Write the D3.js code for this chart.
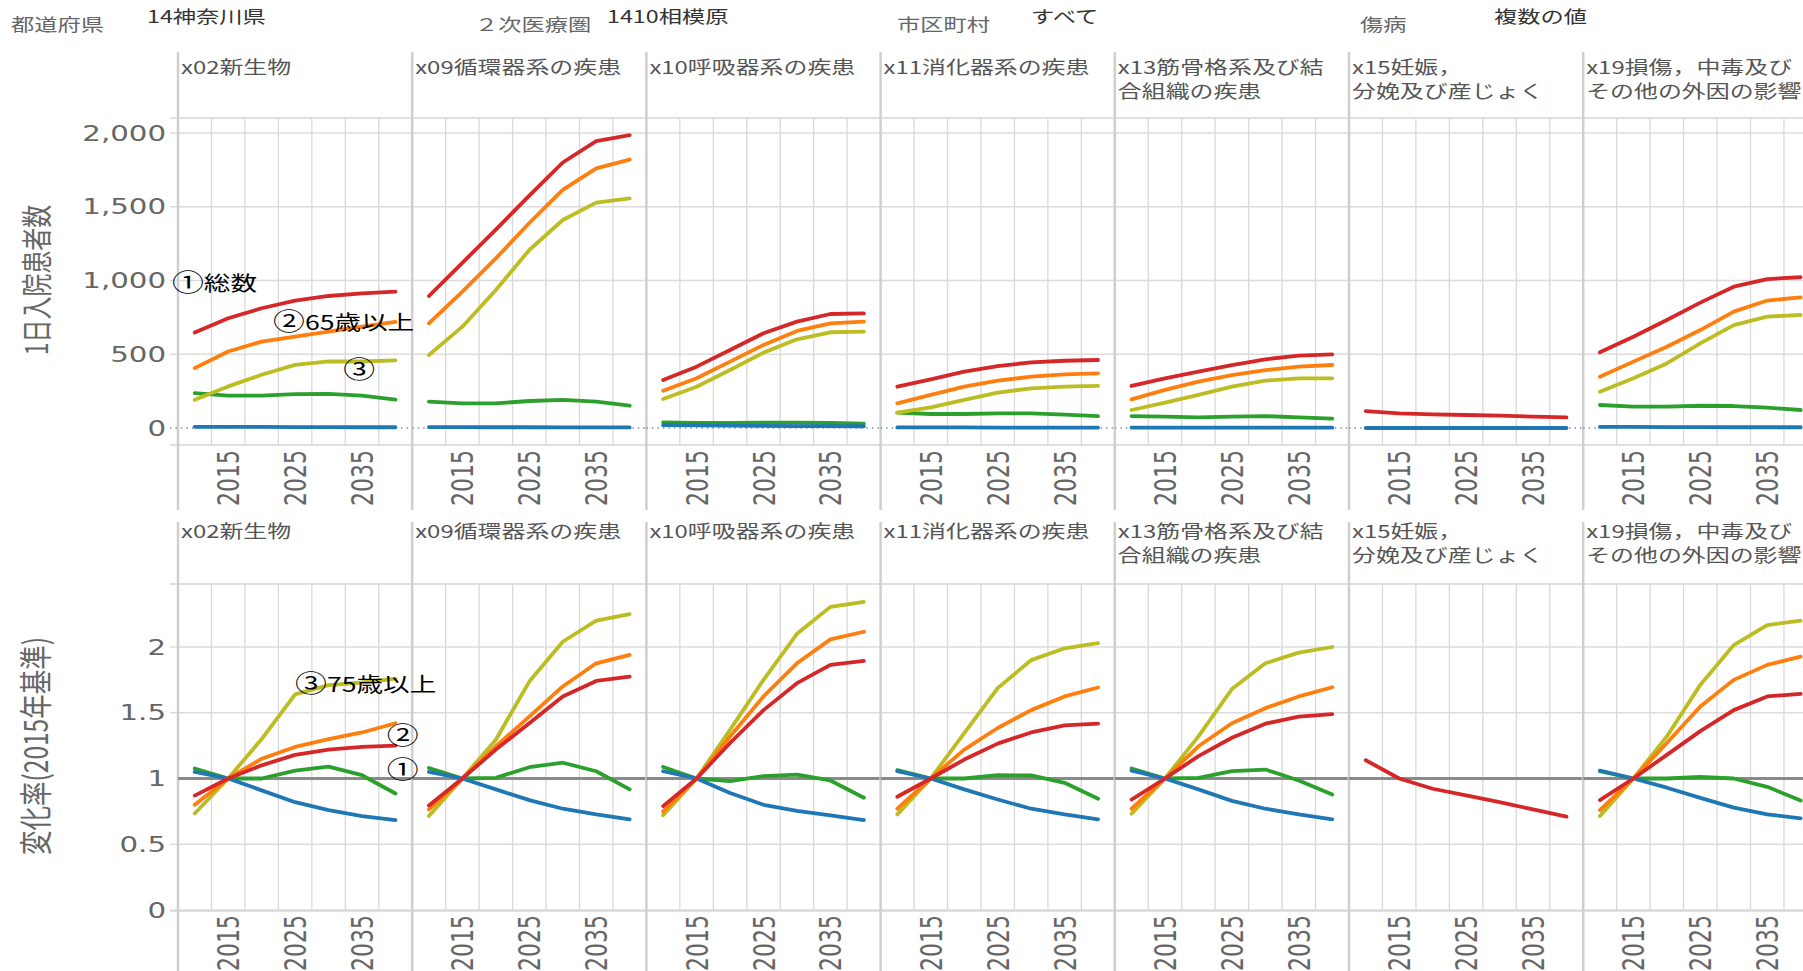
<!DOCTYPE html>
<html>
<head>
<meta charset="utf-8">
<script src="https://cdn.jsdelivr.net/npm/d3@7"></script>
<style>
  body { margin: 0; background: #fff; overflow: hidden; }
  svg { display: block; }
</style>
</head>
<body>
<svg id="chart"></svg>
<script>
// ---- data ----
var years = [2010, 2015, 2020, 2025, 2030, 2035, 2040];

var diseases = [
  ["x02新生物"],
  ["x09循環器系の疾患"],
  ["x10呼吸器系の疾患"],
  ["x11消化器系の疾患"],
  ["x13筋骨格系及び結", "合組織の疾患"],
  ["x15妊娠，", "分娩及び産じょく"],
  ["x19損傷，中毒及び", "その他の外因の影響"]
];

var filterLabels = ["都道府県", "２次医療圏", "市区町村", "傷病"];
var filterValues = ["14神奈川県", "1410相模原", "すべて", "複数の値"];

var countTicks = [0, 500, 1000, 1500, 2000];
var rateTicks = [0, 0.5, 1, 1.5, 2];
var yearTicks = [2015, 2025, 2035];

// 1日入院患者数 (one array per disease)
var countTotal = [
  [647, 744, 812, 864, 895, 913, 925],
  [895, 1120, 1345, 1575, 1800, 1945, 1985],
  [325, 416, 529, 642, 721, 773, 777],
  [280, 330, 382, 420, 445, 456, 461],
  [285, 337, 382, 427, 466, 490, 499],
  [115, 99, 93, 88, 84, 77, 72],
  [513, 619, 732, 850, 958, 1010, 1022]
];
var count65 = [
  [406, 519, 586, 620, 654, 688, 720],
  [710, 925, 1150, 1390, 1615, 1760, 1820],
  [253, 337, 450, 563, 658, 710, 721],
  [167, 224, 280, 321, 348, 364, 371],
  [194, 258, 314, 359, 393, 416, 427],
  null,
  [348, 450, 551, 664, 789, 864, 886]
];
var count75 = [
  [192, 282, 361, 428, 451, 451, 458],
  [495, 687, 936, 1207, 1410, 1528, 1557],
  [197, 280, 393, 511, 601, 649, 653],
  [104, 140, 190, 240, 269, 280, 285],
  [122, 172, 224, 280, 321, 337, 337],
  null,
  [246, 337, 438, 574, 698, 755, 766]
];
var count1564 = [
  [237, 219, 219, 230, 232, 219, 192],
  [179, 167, 167, 183, 190, 179, 151],
  [38, 35, 34, 36, 36, 34, 30],
  [104, 95, 95, 99, 99, 90, 81],
  [81, 77, 72, 77, 81, 72, 63],
  null,
  [156, 145, 145, 151, 149, 138, 122]
];
var count014 = [
  [8, 7, 7, 6, 6, 5, 5],
  [6, 6, 5, 5, 4, 4, 4],
  [19, 18, 16, 14, 13, 13, 12],
  [4, 4, 4, 3, 3, 3, 3],
  [3, 3, 3, 2, 2, 2, 2],
  [0, 0, 0, 0, 0, 0, 0],
  [7, 7, 6, 6, 5, 5, 5]
];

// 変化率(2015年基準)
var rateTotal = [
  [0.87, 1, 1.10, 1.18, 1.22, 1.24, 1.25],
  [0.795, 1, 1.22, 1.42, 1.624, 1.742, 1.775],
  [0.79, 1, 1.27, 1.52, 1.725, 1.864, 1.894],
  [0.861, 1, 1.144, 1.265, 1.35, 1.404, 1.417],
  [0.84, 1, 1.17, 1.31, 1.417, 1.47, 1.49],
  [1.139, 1, 0.922, 0.871, 0.82, 0.765, 0.71],
  [0.836, 1, 1.18, 1.36, 1.52, 1.624, 1.644]
];
var rate65 = [
  [0.80, 1, 1.15, 1.24, 1.30, 1.35, 1.42],
  [0.765, 1, 1.245, 1.47, 1.70, 1.876, 1.94],
  [0.75, 1, 1.32, 1.624, 1.876, 2.058, 2.116],
  [0.77, 1, 1.22, 1.384, 1.52, 1.624, 1.692],
  [0.77, 1, 1.245, 1.42, 1.535, 1.624, 1.694],
  null,
  [0.76, 1, 1.27, 1.548, 1.75, 1.864, 1.927]
];
var rate75 = [
  [0.734, 1, 1.30, 1.64, 1.71, 1.73, 1.76],
  [0.715, 1, 1.295, 1.737, 2.04, 2.20, 2.25],
  [0.72, 1, 1.37, 1.75, 2.10, 2.305, 2.343],
  [0.727, 1, 1.346, 1.687, 1.90, 1.99, 2.03],
  [0.732, 1, 1.32, 1.68, 1.876, 1.957, 2.0],
  null,
  [0.715, 1, 1.32, 1.712, 2.015, 2.167, 2.2]
];
var rate1564 = [
  [1.076, 1, 1.0, 1.06, 1.09, 1.025, 0.886],
  [1.08, 1, 1.005, 1.086, 1.12, 1.055, 0.917],
  [1.088, 1, 0.98, 1.018, 1.03, 0.985, 0.854],
  [1.063, 1, 1.0, 1.025, 1.023, 0.967, 0.846],
  [1.076, 1, 1.005, 1.056, 1.068, 0.985, 0.879],
  null,
  [1.055, 1, 1.0, 1.013, 1.0, 0.937, 0.833]
];
var rate014 = [
  [1.05, 1, 0.91, 0.82, 0.76, 0.714, 0.684],
  [1.05, 1, 0.917, 0.836, 0.77, 0.727, 0.69],
  [1.055, 1, 0.89, 0.80, 0.753, 0.72, 0.684],
  [1.055, 1, 0.917, 0.84, 0.77, 0.727, 0.69],
  [1.06, 1, 0.917, 0.83, 0.77, 0.727, 0.69],
  null,
  [1.06, 1, 0.93, 0.853, 0.778, 0.727, 0.697]
];

// draw order: first is at the bottom
var seriesColors = ["#2ca02c", "#1f77b4", "#bcbd22", "#ff7f0e", "#d62728"];
var countSeries = [count1564, count014, count75, count65, countTotal];
var rateSeries = [rate1564, rate014, rate75, rate65, rateTotal];

// ---- layout ----
var W = 1803, H = 971;
var S = 1.33;               // the picture is stretched sideways; text follows it
var PANEL_X0 = 178, PANEL_W = 234.2;
var CJK = "'Noto Sans CJK JP', 'Noto Sans', sans-serif";
var NUM = "'DejaVu Sans', Verdana, sans-serif";

var filterLabelX = [11, 475, 897, 1360];
var filterValueX = [147, 607, 1031, 1494];

var svg = d3.select("#chart").attr("width", W).attr("height", H);

function stretch(sel, x, y, rot) {
  return sel.attr("transform", "translate(" + x + "," + y + ") scale(" + S + ",1)" + (rot ? " rotate(" + rot + ")" : ""));
}

function xScaleFor(i) {
  var left = PANEL_X0 + i * PANEL_W;
  return d3.scaleLinear().domain([2007.5, 2042.5]).range([left, left + PANEL_W]);
}

var rows = [
  {
    series: countSeries,
    y: d3.scaleLinear().domain([0, 2000]).range([428, 133]),
    ticks: countTicks, format: d3.format(","),
    grid: [500, 1000, 1500, 2000],
    headerTop: 52, headY: 68, plotTop: 118, plotBottom: 445,
    axisEnd: 510, labelTop: 450,
    title: "1日入院患者数", titleY: 280, titleSize: 23
  },
  {
    series: rateSeries,
    y: d3.scaleLinear().domain([0, 2]).range([910, 647]),
    ticks: rateTicks, format: function(d) { return String(d); },
    grid: [0, 0.5, 1.5, 2],
    headerTop: 522, headY: 532, plotTop: 584, plotBottom: 911,
    axisEnd: 971, labelTop: 915,
    title: "変化率(2015年基準)", titleY: 746, titleSize: 24.5
  }
];

// ---- filter strip at the top ----
filterLabels.forEach(function(t, i) {
  stretch(svg.append("text"), filterLabelX[i], 25)
    .attr("dy", "0.35em").attr("font-family", CJK).attr("font-size", 17.5)
    .attr("fill", "#666").text(t);
  stretch(svg.append("text"), filterValueX[i], 17)
    .attr("dy", "0.35em").attr("font-family", CJK).attr("font-size", 17.5)
    .attr("fill", "#333").text(filterValues[i]);
});

rows.forEach(function(row, r) {
  var g = svg.append("g");
  var y = row.y;

  // horizontal frame and gridlines
  g.selectAll(".hgrid").data(row.grid).enter().append("line")
    .attr("x1", PANEL_X0 - 8).attr("x2", W)
    .attr("y1", function(d) { return y(d); }).attr("y2", function(d) { return y(d); })
    .attr("stroke", "#dcdcdc").attr("stroke-width", 1.3);

  [row.plotTop, row.plotBottom].forEach(function(yy) {
    g.append("line").attr("x1", PANEL_X0 - 8).attr("x2", W)
      .attr("y1", yy).attr("y2", yy)
      .attr("stroke", "#d6d6d6").attr("stroke-width", 1.5);
  });

  diseases.forEach(function(lines, i) {
    var x = xScaleFor(i);
    var pg = g.append("g");

    // vertical gridlines
    pg.selectAll(".vgrid").data(d3.range(2012.5, 2040, 5)).enter().append("line")
      .attr("x1", function(d) { return x(d); }).attr("x2", function(d) { return x(d); })
      .attr("y1", row.plotTop).attr("y2", row.plotBottom)
      .attr("stroke", "#d9d9d9").attr("stroke-width", 1.3);

    // panel separators
    pg.append("line")
      .attr("x1", x.range()[0]).attr("x2", x.range()[0])
      .attr("y1", row.headerTop).attr("y2", row.axisEnd)
      .attr("stroke", "#cfcfcf").attr("stroke-width", 2.5);

    // zero line / reference line
    if (r === 0) {
      pg.append("line")
        .attr("x1", x.range()[0] - (i === 0 ? 8 : 0)).attr("x2", x.range()[1])
        .attr("y1", y(0)).attr("y2", y(0))
        .attr("stroke", "#7f93aa").attr("stroke-width", 1.5)
        .attr("stroke-dasharray", "1.5,4");
    } else {
      pg.append("line")
        .attr("x1", x.range()[0]).attr("x2", x.range()[1])
        .attr("y1", y(1)).attr("y2", y(1))
        .attr("stroke", "#8a8a8a").attr("stroke-width", 3);
    }

    // data lines
    var line = d3.line()
      .x(function(d) { return x(d[0]); })
      .y(function(d) { return y(d[1]); });

    row.series.forEach(function(ser, k) {
      var vals = ser[i];
      if (!vals) return;
      pg.append("path")
        .datum(years.map(function(yr, j) { return [yr, vals[j]]; }))
        .attr("d", line)
        .attr("fill", "none")
        .attr("stroke", seriesColors[k])
        .attr("stroke-width", 3.8)
        .attr("stroke-linejoin", "round")
        .attr("stroke-linecap", "round");
    });

    // panel header (wrapped lines in one text)
    var head = stretch(pg.append("text"), x.range()[0] + 3, row.headY)
      .attr("font-family", CJK).attr("font-size", 18).attr("fill", "#555");
    lines.forEach(function(t, li) {
      head.append("tspan").attr("x", 0).attr("dy", li === 0 ? "0.35em" : "1.3em").text(t);
    });

    // x axis, labels turned upright
    var xAxis = pg.append("g")
      .attr("transform", "translate(0," + row.labelTop + ")")
      .call(d3.axisBottom(x).tickValues(yearTicks).tickSize(0).tickFormat(d3.format("d")));
    xAxis.select(".domain").remove();
    xAxis.selectAll("text")
      .attr("y", 0).attr("dy", "0.36em")
      .attr("text-anchor", "end")
      .attr("transform", "scale(" + S + ",1) rotate(-90)")
      .attr("font-family", NUM).attr("font-size", 22).attr("fill", "#666");
  });

  // last panel's right edge
  var xr = xScaleFor(diseases.length - 1).range()[1];
  g.append("line").attr("x1", xr).attr("x2", xr)
    .attr("y1", row.headerTop).attr("y2", row.axisEnd)
    .attr("stroke", "#cfcfcf").attr("stroke-width", 2.5);

  // y axis
  var yAxis = g.append("g")
    .attr("transform", "translate(" + PANEL_X0 + ",0)")
    .call(d3.axisLeft(y).tickValues(row.ticks).tickSize(0).tickFormat(row.format));
  yAxis.select(".domain").remove();
  yAxis.selectAll("text")
    .attr("x", -12 / S)
    .attr("transform", "scale(" + S + ",1)")
    .attr("font-family", NUM).attr("font-size", 22).attr("fill", "#666");

  stretch(g.append("text"), 37, row.titleY, -90)
    .attr("text-anchor", "middle").attr("dy", "0.35em")
    .attr("font-family", CJK).attr("font-size", row.titleSize).attr("fill", "#666")
    .text(row.title);
});

// ---- call-outs on the first panels ----
var xFirst = xScaleFor(0);
var notes = [
  { row: 0, year: 2006.6, value: 983, mark: "①", text: "総数" },
  { row: 0, year: 2021.7, value: 719, mark: "②", text: "65歳以上" },
  { row: 0, year: 2032.2, value: 393, mark: "③", text: "" },
  { row: 1, year: 2025.0, value: 1.72, mark: "③", text: "75歳以上" },
  { row: 1, year: 2038.7, value: 1.32, mark: "②", text: "" },
  { row: 1, year: 2038.7, value: 1.068, mark: "①", text: "" }
];
notes.forEach(function(n) {
  var t = stretch(svg.append("text"), xFirst(n.year), rows[n.row].y(n.value))
    .attr("font-family", CJK).attr("font-size", 20).attr("fill", "#000");
  t.append("tspan").attr("dy", 8).attr("font-size", 24).text(n.mark);
  if (n.text) t.append("tspan").attr("dy", 0).text(n.text);
});
</script>
</body>
</html>
